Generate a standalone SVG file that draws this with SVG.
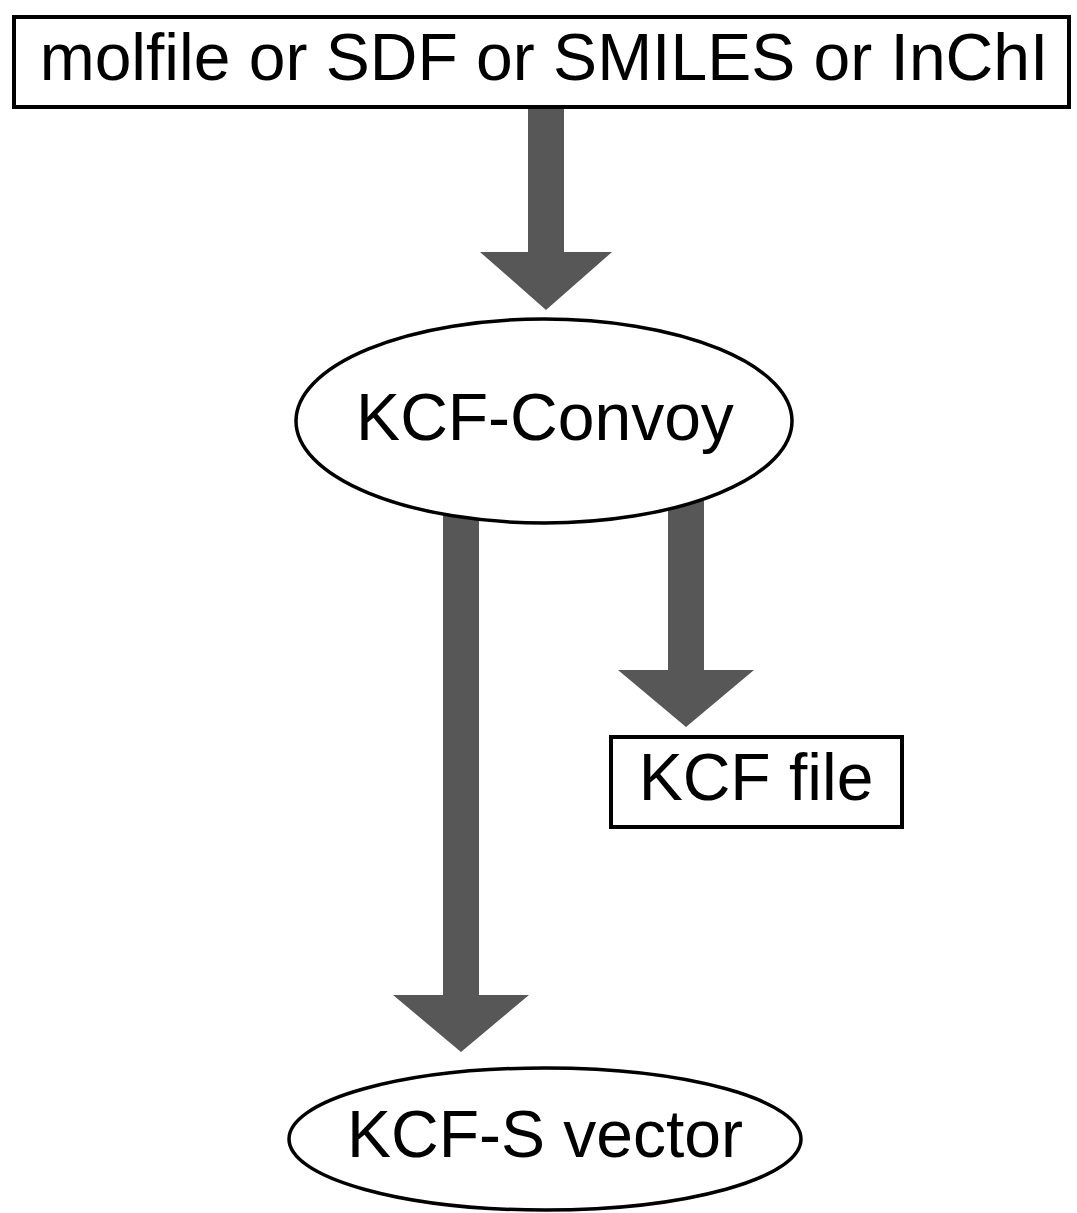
<svg xmlns="http://www.w3.org/2000/svg" width="1077" height="1213" viewBox="0 0 1077 1213">
<style>
.lbl{font-family:"Liberation Sans",Arial,sans-serif;font-size:66px;fill:#000;text-anchor:middle}
.box{fill:#fff;stroke:#000;stroke-width:4}
.oval{fill:#fff;stroke:#000;stroke-width:3.5}
.arr{fill:#575757}
</style>
<rect width="1077" height="1213" fill="#fff"/>
<g id="connectors">
<polygon class="arr" points="528,105 564,105 564,252 612,252 546,310 480,252 528,252"/>
<polygon class="arr" points="443,500 479,500 479,995 529,995 461,1052 393,995 443,995"/>
<polygon class="arr" points="668,500 704,500 704,670 754,670 686,727 618,670 668,670"/>
</g>
<g id="input">
<rect class="box" x="14" y="17" width="1055" height="90"/>
<text class="lbl" x="544" y="80">molfile or SDF or SMILES or InChI</text>
</g>
<g id="kcf-convoy">
<ellipse class="oval" cx="544" cy="421" rx="248" ry="102"/>
<text class="lbl" x="545" y="440">KCF-Convoy</text>
</g>
<g id="kcf-file">
<rect class="box" x="611" y="737" width="291" height="90"/>
<text class="lbl" x="756" y="800">KCF file</text>
</g>
<g id="kcf-s-vector">
<ellipse class="oval" cx="545" cy="1139" rx="256" ry="71"/>
<text class="lbl" x="545" y="1157">KCF-S vector</text>
</g>
</svg>
